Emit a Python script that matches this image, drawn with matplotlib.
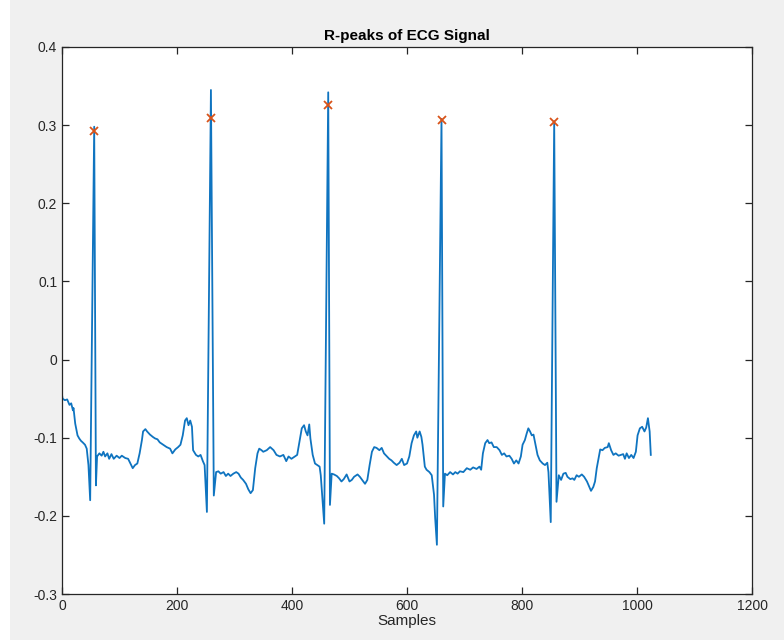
import matplotlib
matplotlib.use("Agg")
import matplotlib.pyplot as plt
from matplotlib.patches import Rectangle

matplotlib.rcParams['font.family'] = ['Liberation Sans', 'DejaVu Sans']

# --------------------------------------
# Data
# --------------------------------------
samples = [
    0, 1, 5, 9, 13, 16, 19, 20, 23, 27, 30, 33, 36, 40, 43, 46, 49, 56, 59, 61,
    65, 69, 72, 75, 79, 82, 86, 90, 95, 100, 104, 110, 115, 119, 123, 127, 131,
    135, 139, 141, 145, 148, 153, 158, 162, 166, 170, 176, 182, 188, 192, 197,
    202, 206, 210, 214, 217, 220, 223, 226, 228, 233, 237, 241, 245, 248, 252,
    259, 264, 268, 272, 276, 281, 285, 289, 293, 298, 303, 307, 311, 315, 320,
    324, 328, 332, 336, 340, 343, 347, 350, 356, 362, 368, 373, 379, 385, 390,
    394, 399, 405, 409, 413, 417, 421, 424, 427, 430, 432, 436, 440, 444, 448,
    450, 456, 463, 466, 469, 473, 478, 482, 486, 490, 495, 500, 504, 508, 514,
    518, 523, 527, 531, 535, 539, 543, 547, 552, 556, 560, 565, 569, 573, 577,
    582, 587, 591, 595, 600, 604, 608, 612, 616, 618, 622, 625, 627, 631, 634,
    639, 643, 647, 649, 652, 660, 663, 666, 670, 675, 680, 684, 688, 692, 698,
    704, 710, 715, 721, 726, 729, 732, 736, 740, 743, 747, 751, 756, 761, 765,
    769, 773, 778, 782, 786, 790, 794, 798, 801, 805, 808, 811, 814, 817, 820,
    823, 827, 831, 836, 840, 844, 846, 850, 856, 860, 864, 868, 872, 876, 879,
    884, 888, 891, 895, 899, 904, 908, 913, 917, 920, 924, 927, 930, 933, 936,
    940, 944, 949, 951, 955, 959, 963, 968, 972, 976, 979, 982, 986, 990, 994,
    998, 1001, 1005, 1009, 1013, 1016, 1019, 1022, 1024,
]

ecg = [
    -0.045, -0.050, -0.052, -0.051, -0.058, -0.056, -0.065, -0.062, -0.082,
    -0.097, -0.101, -0.104, -0.106, -0.109, -0.114, -0.135, -0.180, 0.298,
    -0.161, -0.124, -0.120, -0.123, -0.118, -0.124, -0.120, -0.127, -0.121,
    -0.127, -0.123, -0.126, -0.123, -0.126, -0.127, -0.133, -0.139, -0.135,
    -0.133, -0.120, -0.103, -0.092, -0.089, -0.092, -0.096, -0.099, -0.101,
    -0.102, -0.106, -0.109, -0.112, -0.114, -0.120, -0.115, -0.112, -0.109,
    -0.097, -0.078, -0.075, -0.084, -0.078, -0.086, -0.116, -0.122, -0.124,
    -0.122, -0.130, -0.135, -0.195, 0.345, -0.174, -0.144, -0.143, -0.146,
    -0.144, -0.149, -0.146, -0.149, -0.146, -0.144, -0.146, -0.151, -0.154,
    -0.159, -0.166, -0.171, -0.167, -0.139, -0.120, -0.114, -0.116, -0.118,
    -0.116, -0.112, -0.116, -0.122, -0.124, -0.122, -0.130, -0.124, -0.127,
    -0.124, -0.122, -0.105, -0.088, -0.084, -0.092, -0.097, -0.083, -0.101,
    -0.122, -0.133, -0.135, -0.137, -0.148, -0.210, 0.342, -0.186, -0.146,
    -0.147, -0.149, -0.152, -0.156, -0.153, -0.147, -0.156, -0.154, -0.150,
    -0.147, -0.150, -0.155, -0.159, -0.154, -0.135, -0.118, -0.112, -0.113,
    -0.116, -0.113, -0.120, -0.124, -0.127, -0.129, -0.132, -0.135, -0.132,
    -0.127, -0.135, -0.133, -0.124, -0.107, -0.097, -0.092, -0.100, -0.092,
    -0.099, -0.109, -0.137, -0.141, -0.144, -0.148, -0.173, -0.203, -0.237,
    0.308, -0.188, -0.146, -0.148, -0.144, -0.147, -0.144, -0.146, -0.143,
    -0.144, -0.139, -0.141, -0.138, -0.140, -0.137, -0.141, -0.120, -0.107,
    -0.103, -0.107, -0.106, -0.112, -0.112, -0.116, -0.122, -0.120, -0.124,
    -0.123, -0.127, -0.133, -0.129, -0.133, -0.124, -0.109, -0.103, -0.095,
    -0.088, -0.092, -0.097, -0.096, -0.107, -0.122, -0.129, -0.133, -0.135,
    -0.132, -0.144, -0.208, 0.305, -0.182, -0.148, -0.154, -0.146, -0.145,
    -0.150, -0.153, -0.152, -0.154, -0.148, -0.150, -0.147, -0.150, -0.156,
    -0.163, -0.168, -0.163, -0.156, -0.139, -0.127, -0.115, -0.116, -0.113,
    -0.112, -0.107, -0.116, -0.122, -0.120, -0.123, -0.122, -0.121, -0.127,
    -0.120, -0.126, -0.122, -0.126, -0.118, -0.097, -0.088, -0.086, -0.092,
    -0.087, -0.075, -0.092, -0.122,
]

# detected R-peaks
peak_locs = [56, 259, 463, 660, 856]
peak_vals = [0.292, 0.309, 0.326, 0.307, 0.304]

xticks = [0, 200, 400, 600, 800, 1000, 1200]
yticks = [-0.3, -0.2, -0.1, 0, 0.1, 0.2, 0.3, 0.4]
ytick_labels = ["-0.3", "-0.2", "-0.1", "0", "0.1", "0.2", "0.3", "0.4"]

# --------------------------------------
# Plot
# --------------------------------------
fig = plt.figure(figsize=(7.84, 6.42), dpi=100, facecolor="white")
fig.patches.append(Rectangle((10 / 784, 2 / 642), 1, 1, transform=fig.transFigure,
                             facecolor="#f0f0f0", edgecolor="none", zorder=-10))

ax = fig.add_axes([62 / 784, 48 / 642, 690 / 784, 547 / 642])
ax.plot(samples, ecg, color="#0F74C0", linewidth=1.3)
ax.plot(peak_locs, peak_vals, "x", color="#D95319", markersize=6, markeredgewidth=1.3)

ax.set_xlim(0, 1200)
ax.set_ylim(-0.3, 0.4)
ax.set_xticks(xticks)
ax.set_xticklabels([str(t) for t in xticks])
ax.set_yticks(yticks)
ax.set_yticklabels(ytick_labels)

ax.tick_params(direction="in", length=5, width=0.9, top=True, right=True,
               labelsize=10, colors="#262626")
for s in ax.spines.values():
    s.set_linewidth(0.9)
    s.set_color("#262626")

ax.set_title("R-peaks of ECG Signal", fontsize=11, fontweight="bold", color="black", pad=5)
ax.set_xlabel("Samples", fontsize=11, color="#262626", labelpad=1)

plt.savefig("out.png", dpi=100, facecolor=fig.get_facecolor())
plt.close()
